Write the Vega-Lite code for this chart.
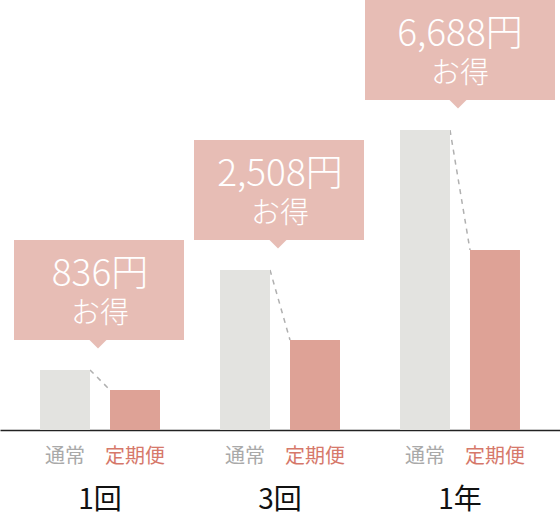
{
  "$schema": "https://vega.github.io/schema/vega-lite/v6.json",
  "width": 560,
  "height": 430,
  "padding": 0,
  "background": "white",
  "config": {"view": {"stroke": null}, "font": "Noto Sans CJK JP"},
  "data": {
    "values": [
      {"group": "1回", "通常": 60, "定期便": 40, "saving": "836円"},
      {"group": "3回", "通常": 160, "定期便": 90, "saving": "2,508円"},
      {"group": "1年", "通常": 300, "定期便": 180, "saving": "6,688円"}
    ]
  },
  "encoding": {
    "x": {
      "field": "group",
      "type": "nominal",
      "sort": ["1回", "3回", "1年"],
      "scale": {"paddingInner": 0, "paddingOuter": 0.0556},
      "axis": {
        "title": null,
        "ticks": false,
        "tickSize": 0,
        "labelAngle": 0,
        "labelFontSize": 28,
        "labelColor": "#111111",
        "labelPadding": 56,
        "labelFont": "Noto Sans CJK JP",
        "domainColor": "#222222",
        "domainWidth": 1.5
      }
    }
  },
  "layer": [
    {
      "mark": {"type": "rule", "xOffset": -10, "x2Offset": 10, "stroke": "#b0b0b0", "strokeWidth": 1.5, "strokeDash": [5, 5]},
      "encoding": {
        "x2": {"field": "group"},
        "y": {"field": "通常", "type": "quantitative", "scale": {"domain": [0, 430], "nice": false}, "axis": null},
        "y2": {"field": "定期便"}
      }
    },
    {
      "transform": [{"fold": ["通常", "定期便"], "as": ["type", "value"]}],
      "mark": {"type": "bar"},
      "encoding": {
        "xOffset": {"field": "type", "type": "nominal", "sort": ["通常", "定期便"], "scale": {"paddingInner": 0.2857, "paddingOuter": 0.4286}},
        "y": {"field": "value", "type": "quantitative"},
        "color": {"field": "type", "type": "nominal", "sort": ["通常", "定期便"], "scale": {"domain": ["通常", "定期便"], "range": ["#e3e3e0", "#dea296"]}, "legend": null}
      }
    },
    {
      "transform": [{"fold": ["通常", "定期便"], "as": ["type", "value"]}],
      "mark": {"type": "text", "dy": 27, "baseline": "middle", "fontSize": 20, "font": "Noto Sans CJK JP"},
      "encoding": {
        "xOffset": {"field": "type", "type": "nominal", "sort": ["通常", "定期便"]},
        "y": {"datum": 0, "type": "quantitative"},
        "text": {"field": "type"},
        "color": {"field": "type", "type": "nominal", "scale": {"domain": ["通常", "定期便"], "range": ["#a9a9a9", "#d6786a"]}, "legend": null}
      }
    },
    {
      "transform": [{"filter": "datum.group !== '1年'"}],
      "mark": {"type": "bar", "width": 170, "yOffset": -130, "y2Offset": -30, "color": "#e7bdb5", "xOffset": -1},
      "encoding": {
        "y": {"field": "通常", "type": "quantitative"},
        "y2": {"field": "通常"}
      }
    },
    {
      "transform": [{"filter": "datum.group === '1年'"}],
      "mark": {"type": "bar", "width": 190, "yOffset": -130, "y2Offset": -30, "color": "#e7bdb5"},
      "encoding": {
        "y": {"field": "通常", "type": "quantitative"},
        "y2": {"field": "通常"}
      }
    },
    {
      "mark": {"type": "point", "shape": "M -1 0 L 1 0 L 0 1 Z", "size": 324, "filled": true, "opacity": 1, "color": "#e7bdb5", "yOffset": -30.5, "xOffset": -2},
      "encoding": {
        "y": {"field": "通常", "type": "quantitative"}
      }
    },
    {
      "mark": {"type": "text", "dy": -95, "baseline": "middle", "fontSize": 37, "fontWeight": 300, "color": "white", "font": "Noto Sans CJK JP"},
      "encoding": {
        "y": {"field": "通常", "type": "quantitative"},
        "text": {"field": "saving"}
      }
    },
    {
      "mark": {"type": "text", "dy": -56, "baseline": "middle", "fontSize": 29, "fontWeight": 300, "color": "white", "font": "Noto Sans CJK JP"},
      "encoding": {
        "y": {"field": "通常", "type": "quantitative"},
        "text": {"value": "お得"}
      }
    }
  ],
  "resolve": {"scale": {"color": "independent"}}
}
